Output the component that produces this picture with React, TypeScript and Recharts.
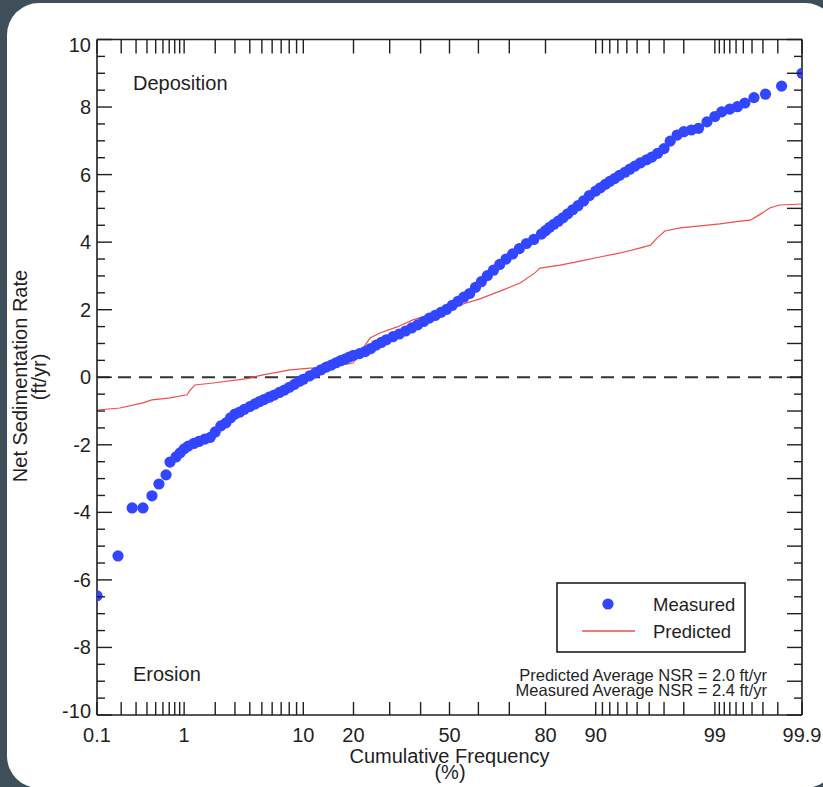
import React from "react";
import { ComposedChart, Scatter, Line, XAxis, YAxis, ReferenceLine } from "recharts";

// measured NSR (cumulative frequency in %)
const measuredFreq = [
  0.1, 0.183, 0.27, 0.36, 0.455, 0.543, 0.648, 0.714, 0.826, 0.91,
  1, 1.1, 1.25, 1.4, 1.6, 1.8, 2, 2.25, 2.5, 2.75, 3, 3.3, 3.6,
  4, 4.4, 4.8, 5.2, 5.7, 6.2, 6.8, 7.4, 8, 8.7, 9.4,
  10, 11, 12, 13, 14, 15, 16, 17, 18, 19, 20,
  21.5, 23, 24.5, 26, 27.5, 29,
  31, 33, 35, 37, 39, 41, 43, 45, 47, 49, 51, 53, 55, 57, 59, 61, 63, 65, 67, 69, 71, 73, 75, 77, 79,
  80, 81, 82, 83, 84, 85, 86, 87, 88, 89, 90,
  90.7, 91.4, 92, 92.6, 93.2, 93.8, 94.3, 94.8, 95.3, 95.8, 96.2, 96.6, 97, 97.35, 97.7, 98,
  98.3, 98.55, 98.8, 99, 99.15, 99.3, 99.42, 99.52, 99.62, 99.72, 99.82, 99.9,
];
const measuredNsr = [
  -6.47, -5.29, -3.87, -3.87, -3.51, -3.16, -2.89, -2.51, -2.36, -2.24,
  -2.12, -2.04, -1.96, -1.9, -1.83, -1.78, -1.62, -1.44, -1.35, -1.2, -1.09, -1.03, -0.95,
  -0.87, -0.79, -0.72, -0.66, -0.59, -0.53, -0.45, -0.38, -0.3, -0.21, -0.12,
  -0.06, 0.04, 0.13, 0.22, 0.3, 0.36, 0.43, 0.49, 0.54, 0.6, 0.65,
  0.7, 0.76, 0.85, 0.95, 1.03, 1.11,
  1.2, 1.28, 1.37, 1.46, 1.55, 1.65, 1.75, 1.83, 1.92, 2.01, 2.13, 2.25, 2.37, 2.48, 2.66, 2.83, 3.01, 3.17, 3.34, 3.5, 3.65, 3.81, 3.96, 4.08, 4.24,
  4.34, 4.44, 4.53, 4.62, 4.72, 4.84, 4.96, 5.08, 5.22, 5.38, 5.51,
  5.61, 5.71, 5.8, 5.88, 5.98, 6.07, 6.16, 6.25, 6.35, 6.44, 6.52, 6.63, 6.77, 6.99, 7.17, 7.27,
  7.32, 7.37, 7.56, 7.72, 7.86, 7.94, 8.01, 8.12, 8.28, 8.38, 8.62, 9.0,
];

// predicted NSR curve
const predictedFreq = [
  0.1, 0.193, 0.36, 0.455, 0.714, 1.07, 1.15, 1.28, 1.91, 3.8,
  5.1, 8.1, 11.6, 18.4, 19.9, 21.6, 24.3, 27.1, 32.3, 37.4,
  43.2, 49.1, 53.7, 60.5, 67.1, 73.2, 77.3, 78.6, 83.4, 87.4,
  90.6, 93.3, 95.3, 96.1, 96.55, 97.05, 97.84, 98.6, 99.11, 99.46,
  99.58, 99.68, 99.75, 99.81, 99.9,
];
const predictedNsr = [
  -0.97, -0.91, -0.76, -0.67, -0.61, -0.52, -0.38, -0.23, -0.17, -0.04,
  0.07, 0.22, 0.28, 0.39, 0.42, 0.72, 1.16, 1.31, 1.49, 1.7,
  1.85, 1.99, 2.14, 2.32, 2.55, 2.79, 3.09, 3.23, 3.32, 3.44,
  3.56, 3.68, 3.83, 3.91, 4.12, 4.33, 4.42, 4.48, 4.54, 4.62,
  4.65, 4.83, 5.01, 5.1, 5.13,
];

const xLabels = [0.1, 1, 10, 20, 50, 80, 90, 99, 99.9];
const xMinor = [
  0.2, 0.3, 0.4, 0.5, 0.6, 0.7, 0.8, 0.9,
  2, 3, 4, 5, 6, 7, 8, 9,
  30, 40, 60, 70,
  91, 92, 93, 94, 95, 96, 97, 98,
  99.1, 99.2, 99.3, 99.4, 99.5, 99.6, 99.7, 99.8,
];
const yLabels = [-10, -8, -6, -4, -2, 0, 2, 4, 6, 8, 10];

const INK = "#1f1f1f";
const BLUE = "#3346ff";
const RED = "#f04c4c";
const FONT = "'Liberation Sans', Arial, sans-serif";

// inverse normal cdf (Acklam) -> probability axis
function probit(p: number) {
  const a = [-39.69683028665376, 220.9460984245205, -275.9285104469687, 138.357751867269, -30.66479806614716, 2.506628277459239];
  const b = [-54.47609879822406, 161.5858368580409, -155.6989798598866, 66.80131188771972, -13.28068155288572];
  const c = [-0.007784894002430293, -0.3223964580411365, -2.400758277161838, -2.549732539343734, 4.374664141464968, 2.938163982698783];
  const d = [0.007784695709041462, 0.3224671290700398, 2.445134137142996, 3.754408661907416];
  const lo = 0.02425;
  if (p < lo) {
    const q = Math.sqrt(-2 * Math.log(p));
    return (((((c[0] * q + c[1]) * q + c[2]) * q + c[3]) * q + c[4]) * q + c[5]) / ((((d[0] * q + d[1]) * q + d[2]) * q + d[3]) * q + 1);
  }
  if (p <= 1 - lo) {
    const q = p - 0.5;
    const r = q * q;
    return ((((((a[0] * r + a[1]) * r + a[2]) * r + a[3]) * r + a[4]) * r + a[5]) * q) / (((((b[0] * r + b[1]) * r + b[2]) * r + b[3]) * r + b[4]) * r + 1);
  }
  const q = Math.sqrt(-2 * Math.log(1 - p));
  return -(((((c[0] * q + c[1]) * q + c[2]) * q + c[3]) * q + c[4]) * q + c[5]) / ((((d[0] * q + d[1]) * q + d[2]) * q + d[3]) * q + 1);
}
const toZ = (pct: number) => probit(pct / 100);

const measured = measuredFreq.map((f, i) => ({ z: toZ(f), nsr: measuredNsr[i] }));
const predicted = predictedFreq.map((f, i) => ({ z: toZ(f), nsr: predictedNsr[i] }));

const xDomain = [toZ(0.1), toZ(99.9)];
const xTicks = [...xLabels, ...xMinor].sort((a, b) => a - b).map(toZ);
const yTicks = Array.from({ length: 41 }, (_, i) => -10 + i * 0.5);

const labelFor = (z: number) => xLabels.find((p) => Math.abs(toZ(p) - z) < 1e-9);

const BottomTick = ({ x, y, payload }: any) => {
  const label = labelFor(payload.value);
  return (
    <g>
      <line x1={x} x2={x} y1={y} y2={y - 13} stroke={INK} strokeWidth={1.4} />
      {label !== undefined && (
        <text x={x} y={y + 27} textAnchor="middle" fontSize={20} fill={INK} fontFamily={FONT}>
          {label}
        </text>
      )}
    </g>
  );
};

const TopTick = ({ x, y }: any) => (
  <line x1={x} x2={x} y1={y} y2={y + 14} stroke={INK} strokeWidth={1.4} />
);

const LeftTick = ({ x, y, payload }: any) => {
  const v = payload.value;
  const major = yLabels.includes(v);
  const dy = v === 10 ? 12 : v === -10 ? 3 : 7;
  return (
    <g>
      <line x1={x} x2={x + (major ? 15 : 8)} y1={y} y2={y} stroke={INK} strokeWidth={1.4} />
      {major && (
        <text x={x - 6} y={y + dy} textAnchor="end" fontSize={20} fill={INK} fontFamily={FONT}>
          {v}
        </text>
      )}
    </g>
  );
};

const RightTick = ({ x, y, payload }: any) => {
  const whole = Number.isInteger(payload.value);
  return <line x1={x} x2={x - (whole ? 15 : 8)} y1={y} y2={y} stroke={INK} strokeWidth={1.4} />;
};

const Dot = (p: any) => <circle cx={p.cx} cy={p.cy} r={5.6} fill={BLUE} />;

export default function App() {
  return (
    <div style={{ position: "absolute", left: 0, top: 0, width: 823, height: 787, background: "#3e4f59", overflow: "hidden" }}>
      <div style={{ position: "absolute", left: 7, top: 3, width: 830, height: 785, background: "#fff", borderRadius: 32 }} />
      <div style={{ position: "absolute", left: 0, top: 0 }}>
        <ComposedChart width={823} height={787} margin={{ top: 19.5, right: 11, bottom: 42, left: 57 }}>
          <XAxis
            xAxisId="bottom"
            type="number"
            dataKey="z"
            domain={xDomain}
            ticks={xTicks}
            interval={0}
            allowDataOverflow
            height={30}
            tickSize={0}
            tickMargin={0}
            tickLine={false}
            axisLine={{ stroke: INK, strokeWidth: 1.6 }}
            tick={<BottomTick />}
          />
          <XAxis
            xAxisId="top"
            orientation="top"
            type="number"
            dataKey="z"
            domain={xDomain}
            ticks={xTicks}
            interval={0}
            allowDataOverflow
            height={20}
            tickSize={0}
            tickMargin={0}
            tickLine={false}
            axisLine={{ stroke: INK, strokeWidth: 1.6 }}
            tick={<TopTick />}
          />
          <YAxis
            yAxisId="left"
            type="number"
            domain={[-10, 10]}
            ticks={yTicks}
            interval={0}
            allowDataOverflow
            width={40}
            tickSize={0}
            tickMargin={0}
            tickLine={false}
            axisLine={{ stroke: INK, strokeWidth: 1.6 }}
            tick={<LeftTick />}
          />
          <YAxis
            yAxisId="right"
            orientation="right"
            type="number"
            domain={[-10, 10]}
            ticks={yTicks}
            interval={0}
            allowDataOverflow
            width={10}
            tickSize={0}
            tickMargin={0}
            tickLine={false}
            axisLine={{ stroke: INK, strokeWidth: 1.6 }}
            tick={<RightTick />}
          />
          <Scatter
            name="Measured"
            data={measured}
            dataKey="nsr"
            xAxisId="bottom"
            yAxisId="left"
            shape={<Dot />}
            isAnimationActive={false}
          />
          <ReferenceLine y={0} xAxisId="bottom" yAxisId="left" stroke="#333" strokeWidth={1.8} strokeDasharray="13 8" />
          <Line
            name="Predicted"
            data={predicted}
            dataKey="nsr"
            xAxisId="bottom"
            yAxisId="left"
            type="linear"
            stroke={RED}
            strokeWidth={1.2}
            dot={false}
            isAnimationActive={false}
          />
        </ComposedChart>
      </div>
      <svg width={823} height={787} style={{ position: "absolute", left: 0, top: 0, pointerEvents: "none" }} fontFamily={FONT} fill={INK}>
        <text x={133} y={90} fontSize={20}>Deposition</text>
        <text x={133} y={681} fontSize={20}>Erosion</text>
        <text x={767} y={681} fontSize={16.5} textAnchor="end">Predicted Average NSR = 2.0 ft/yr</text>
        <text x={767} y={696} fontSize={16.5} textAnchor="end">Measured Average NSR = 2.4 ft/yr</text>
        <rect x={557} y={583} width={188} height={69} fill="#fff" stroke="#111" strokeWidth={1.5} />
        <circle cx={608} cy={604} r={5.6} fill={BLUE} />
        <text x={653} y={610.5} fontSize={18.5}>Measured</text>
        <line x1={582} x2={635} y1={631} y2={631} stroke={RED} strokeWidth={1.3} />
        <text x={653} y={637.5} fontSize={18.5}>Predicted</text>
        <text x={449.5} y={763} fontSize={20} textAnchor="middle">Cumulative Frequency</text>
        <text x={450} y={779} fontSize={20} textAnchor="middle">(%)</text>
        <text x={27} y={376} fontSize={20} textAnchor="middle" transform="rotate(-90 27 376)">Net Sedimentation Rate</text>
        <text x={46} y={377} fontSize={20} textAnchor="middle" transform="rotate(-90 46 377)">(ft/yr)</text>
      </svg>
    </div>
  );
}
